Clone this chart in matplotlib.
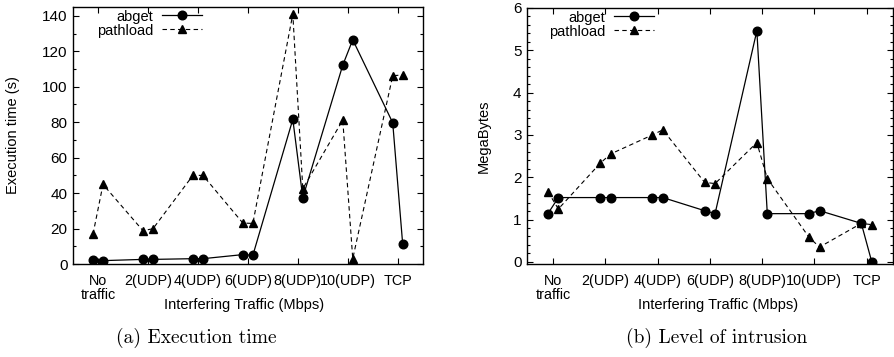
import numpy as np
import matplotlib
matplotlib.use("Agg")
import matplotlib.pyplot as plt
from matplotlib.ticker import MultipleLocator

plt.rcParams['font.family'] = ['Liberation Sans', 'DejaVu Sans']

categories = ['No\ntraffic', '2(UDP)', '4(UDP)', '6(UDP)', '8(UDP)', '10(UDP)', 'TCP']

# two runs per traffic setting
abget_time = [2.3, 1.9, 2.6, 2.6, 3.0, 3.0, 5.3, 4.9, 81.6, 37.4, 112.2, 126.5, 79.7, 11.1]
pathload_time = [16.9, 44.9, 18.8, 19.9, 50.0, 50.0, 23.1, 22.9, 141.0, 42.5, 81.2, 3.0, 106.2, 106.7]

abget_mb = [1.14, 1.52, 1.52, 1.52, 1.52, 1.52, 1.21, 1.14, 5.46, 1.14, 1.14, 1.21, 0.91, 0.0]
pathload_mb = [1.66, 1.25, 2.33, 2.55, 3.0, 3.12, 1.88, 1.85, 2.82, 1.97, 0.58, 0.35, 0.91, 0.88]

pos = np.arange(len(categories))
xs = np.repeat(pos, 2) + np.tile([-0.1, 0.1], len(categories))

fig = plt.figure(figsize=(8.94, 3.57), dpi=100)
ax1 = fig.add_axes([0.0817, 0.2605, 0.3911, 0.7199])
ax2 = fig.add_axes([0.5895, 0.2605, 0.4090, 0.7171])

fs = 10.5
xfs = 10.4
yfs = 11

def style(ax, ab, pl, ylabel, ylim, major, minor, leg_x, ylab_x, xlab_x):
    ax.plot(xs, ab, '-', color='black', lw=0.9, marker='o', ms=6.2, label='abget')
    ax.plot(xs, pl, '--', color='black', lw=0.8, marker='^', ms=5.2, dashes=(4, 3), label='pathload')
    ax.set_xlim(-0.5, 6.5)
    ax.set_ylim(*ylim)
    ax.set_xticks(pos)
    ax.set_xticklabels(categories, fontsize=xfs, linespacing=1.0)
    ax.yaxis.set_major_locator(MultipleLocator(major))
    ax.yaxis.set_minor_locator(MultipleLocator(minor))
    ax.tick_params(axis='both', which='both', direction='in', top=True, right=True)
    ax.tick_params(axis='y', which='major', length=4, width=0.8, labelsize=yfs, pad=4)
    ax.tick_params(axis='y', which='minor', length=2, width=0.8)
    ax.tick_params(axis='x', which='major', length=4, width=0.8, pad=7.5)
    for s in ax.spines.values():
        s.set_linewidth(1.0)
    ax.set_ylabel(ylabel, fontsize=fs)
    ax.yaxis.set_label_coords(ylab_x, 0.5)
    ax.set_xlabel('Interfering Traffic (Mbps)', fontsize=fs)
    ax.xaxis.set_label_coords(xlab_x, -0.134)
    ax.legend(loc='upper right', bbox_to_anchor=(leg_x, 0.99), frameon=False,
              markerfirst=False, fontsize=fs, handlelength=2.75, handletextpad=0.6,
              labelspacing=0.0, borderpad=0, borderaxespad=0, numpoints=1)

style(ax1, abget_time, pathload_time, 'Execution time (s)', (0, 145), 20, 10, 0.369, -0.152, 0.49)
style(ax2, abget_mb, pathload_mb, 'MegaBytes', (-0.05, 6), 1, 0.2, 0.347, -0.098, 0.522)

cap = dict(fontsize=14, family='cmr10', ha='center', va='center')
fig.text(0.219, 0.053, '(a) Execution time', **cap)
fig.text(0.802, 0.053, '(b) Level of intrusion', **cap)

fig.savefig('out.png', dpi=100)
